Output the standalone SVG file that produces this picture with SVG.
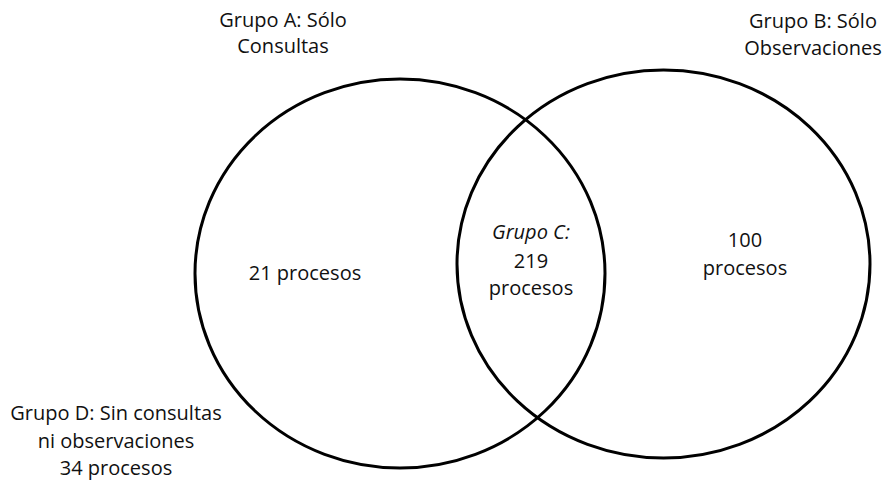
<svg xmlns="http://www.w3.org/2000/svg" width="883" height="481" viewBox="0 0 883 481">
<style>
.c{fill:none;stroke:#000;stroke-width:3}
text{font-family:"Open Sans",Lato,"Liberation Sans",sans-serif;font-size:20px;fill:#111;text-anchor:middle}
.i{font-style:italic}
</style>
<rect width="883" height="481" fill="#fff"/>
<g id="circleA"><ellipse class="c" cx="400" cy="273.5" rx="205" ry="194.5"/></g>
<g id="circleB"><ellipse class="c" cx="663.5" cy="264" rx="206.5" ry="194"/></g>
<g id="labelA"><text x="283" y="27">Grupo A: Sólo</text><text x="283" y="53">Consultas</text></g>
<g id="labelB"><text x="813" y="28">Grupo B: Sólo</text><text x="813" y="55">Observaciones</text></g>
<g id="groupA"><text x="305" y="280">21 procesos</text></g>
<g id="groupC"><text x="531" y="239" class="i">Grupo C:</text><text x="531" y="268">219</text><text x="531" y="295">procesos</text></g>
<g id="groupB"><text x="745" y="247">100</text><text x="745" y="275">procesos</text></g>
<g id="groupD"><text x="116" y="420">Grupo D: Sin consultas</text><text x="116" y="448">ni observaciones</text><text x="116" y="475">34 procesos</text></g>
</svg>
